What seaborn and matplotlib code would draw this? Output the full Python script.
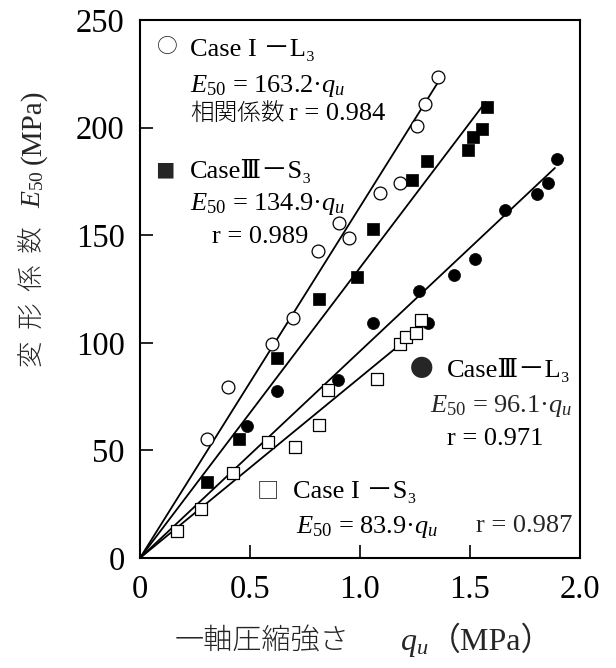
import numpy as np
import pandas as pd
import matplotlib
matplotlib.use("Agg")
import matplotlib.pyplot as plt
import seaborn as sns

# ---------------- data ----------------
# Case I - L3 (open circles)
q_I_L3 = [0.305, 0.399, 0.599, 0.694, 0.810, 0.906, 0.950, 1.090, 1.182, 1.258, 1.295, 1.356]
E_I_L3 = [55.3, 79.3, 99.3, 111.7, 142.8, 155.5, 148.8, 169.5, 174.4, 200.6, 211.0, 223.4]
# Case III - S3 (filled squares)
q_III_S3 = [0.303, 0.449, 0.621, 0.815, 0.988, 1.060, 1.235, 1.306, 1.492, 1.515, 1.553, 1.576]
E_III_S3 = [35.5, 55.2, 93.1, 120.4, 130.4, 152.9, 175.6, 184.5, 189.6, 195.5, 199.3, 209.4]
# Case III - L3 (filled circles)
q_III_L3 = [0.485, 0.621, 0.901, 1.060, 1.267, 1.310, 1.427, 1.524, 1.660, 1.806, 1.856, 1.894]
E_III_L3 = [61.5, 77.7, 82.7, 109.0, 124.0, 109.3, 131.6, 139.1, 161.7, 169.1, 174.1, 185.5]
# Case I - S3 (open squares)
q_I_S3 = [0.167, 0.276, 0.424, 0.580, 0.703, 0.814, 0.853, 1.076, 1.182, 1.209, 1.255, 1.277]
E_I_S3 = [12.7, 22.8, 39.4, 54.0, 51.6, 61.7, 78.0, 83.2, 99.4, 102.8, 104.4, 110.6]

series_names = ["CaseI-L3", "CaseIII-S3", "CaseIII-L3", "CaseI-S3"]
slopes = [163.2, 134.9, 96.1, 83.9]
r_values = [0.984, 0.989, 0.971, 0.987]
line_end_q = [1.355, 1.570, 1.886, 1.270]

x_ticks = [0, 0.5, 1.0, 1.5, 2.0]
x_tick_labels = ["0", "0.5", "1.0", "1.5", "2.0"]
y_ticks = [0, 50, 100, 150, 200, 250]
y_tick_labels = ["0", "50", "100", "150", "200", "250"]

# ---------------- styling ----------------
sns.set_theme(style="ticks")
SERIF = ["Liberation Serif", "DejaVu Serif", "Noto Sans CJK JP"]
plt.rcParams["font.family"] = SERIF
plt.rcParams["mathtext.fontset"] = "custom"
plt.rcParams["mathtext.rm"] = "Liberation Serif"
plt.rcParams["mathtext.it"] = "Liberation Serif:italic"
plt.rcParams["mathtext.bf"] = "Liberation Serif:bold"

W, H = 616, 668
fig = plt.figure(figsize=(W / 100, H / 100), dpi=100)
L, R, T, B = 140, 580, 20, 558
ax = fig.add_axes([L / W, 1 - B / H, (R - L) / W, (B - T) / H])

# fit lines
for name, k, qe in zip(series_names, slopes, line_end_q):
    dfl = pd.DataFrame({"q": [0.0, qe], "E": [0.0, k * qe]})
    sns.lineplot(data=dfl, x="q", y="E", ax=ax, color="black", lw=1.3, zorder=2)

df1 = pd.DataFrame({"q": q_I_L3, "E": E_I_L3})
df2 = pd.DataFrame({"q": q_III_S3, "E": E_III_S3})
df3 = pd.DataFrame({"q": q_III_L3, "E": E_III_L3})
df4 = pd.DataFrame({"q": q_I_S3, "E": E_I_S3})

sns.scatterplot(data=df1, x="q", y="E", ax=ax, marker="o", s=85,
                facecolor="white", edgecolor="black", linewidth=0.9, zorder=4)
sns.scatterplot(data=df2, x="q", y="E", ax=ax, marker="s", s=85,
                facecolor="black", edgecolor="black", linewidth=0.5, zorder=4)
sns.scatterplot(data=df3, x="q", y="E", ax=ax, marker="o", s=75,
                facecolor="black", edgecolor="black", linewidth=0.5, zorder=3)
sns.scatterplot(data=df4, x="q", y="E", ax=ax, marker="s", s=75,
                facecolor="white", edgecolor="black", linewidth=0.9, zorder=4)

ax.set_xlim(0, 2.0)
ax.set_ylim(0, 250)
ax.set_xticks(x_ticks)
ax.set_xticklabels(x_tick_labels)
ax.set_yticks(y_ticks)
ax.set_yticklabels(y_tick_labels)
ax.set_xlabel("")
ax.set_ylabel("")
ax.tick_params(axis="both", direction="in", length=9.5, width=1.2,
               labelsize=23.5, colors="black")
ax.tick_params(axis="x", pad=12)
ax.tick_params(axis="y", pad=11)
for sp in ax.spines.values():
    sp.set_visible(True)
    sp.set_linewidth(1.5)
    sp.set_color("black")
ax.set_facecolor("white")
fig.patch.set_facecolor("white")


def P(px, py):
    """pixel position -> axes fraction (for text placement)"""
    return ((px - L) / (R - L), (B - py) / (B - T))


FS = 19
tk = dict(transform=ax.transAxes, va="baseline", ha="left", color="black")

# Case I - L3
ax.text(*P(167, 47), "○", transform=ax.transAxes, ha="center", va="center",
        fontsize=15, family="Noto Sans CJK JP")
ax.text(*P(190, 56), "Case I －L₃", fontsize=FS, **tk)
ax.text(*P(190, 92), r"$E_{50}$ = 163.2·$q_u$", fontsize=FS, **tk)
ax.text(*P(190, 120), "相関係数", fontsize=17, family="Noto Sans CJK JP",
        fontweight="light", **tk)
ax.text(*P(289, 120), "r = 0.984", fontsize=FS, **tk)

# Case III - S3
ax.text(*P(165, 172), "■", transform=ax.transAxes, ha="center", va="center",
        fontsize=14, family="Noto Sans CJK JP")
ax.text(*P(190, 178), "CaseⅢ－S₃", fontsize=FS, **tk)
ax.text(*P(190, 210), r"$E_{50}$ = 134.9·$q_u$", fontsize=FS, **tk)
ax.text(*P(212, 243), "r = 0.989", fontsize=FS, **tk)

# Case III - L3
ax.text(*P(422, 369), "●", transform=ax.transAxes, ha="center", va="center",
        fontsize=17, family="Noto Sans CJK JP")
ax.text(*P(447, 377), "CaseⅢ－L₃", fontsize=FS, **tk)
ax.text(*P(572, 412), r"$E_{50}$ = 96.1·$q_u$", fontsize=FS,
        transform=ax.transAxes, va="baseline", ha="right")
ax.text(*P(447, 445), "r = 0.971", fontsize=FS, **tk)

# Case I - S3
ax.text(*P(268, 491), "□", transform=ax.transAxes, ha="center", va="center",
        fontsize=16, family="Noto Sans CJK JP")
ax.text(*P(293, 498), "Case I －S₃", fontsize=FS, **tk)
ax.text(*P(296, 533), r"$E_{50}$ = 83.9·$q_u$", fontsize=FS, **tk)
ax.text(*P(572, 532), "r = 0.987", fontsize=FS, transform=ax.transAxes,
        va="baseline", ha="right")

# ---------------- axis labels (pieces) ----------------
def F(px, py):
    return (px / W, 1 - py / H)

# x label
fig.text(*F(175, 650), "一軸圧縮強さ", fontsize=21, family="Noto Sans CJK JP",
         fontweight="light", ha="left", va="baseline")
fig.text(*F(400, 650), r"$q_u$", fontsize=23, ha="left", va="baseline")
fig.text(*F(429, 650), "（MPa）", fontsize=23, family=SERIF, ha="left", va="baseline")

# y label (rotated)
rk = dict(rotation=90, rotation_mode="anchor", ha="left", va="baseline")
fig.text(*F(40, 367), "変  形  係  数", fontsize=19, family="Noto Sans CJK JP",
         fontweight="light", **rk)
fig.text(*F(40, 208), r"$E_{50}$", fontsize=20, **rk)
fig.text(*F(40, 164), "(MPa)", fontsize=21, family=SERIF, **rk)

fig.savefig("out.png", dpi=100, facecolor="white")
